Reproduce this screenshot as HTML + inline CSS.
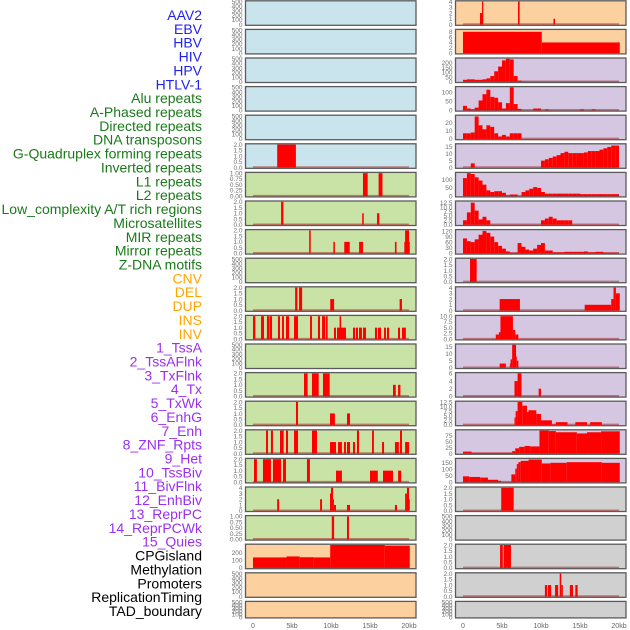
<!DOCTYPE html>
<html><head><meta charset="utf-8"><style>
html,body{margin:0;padding:0;background:#fff;}
svg{display:block;font-family:"Liberation Sans",sans-serif;}
</style></head><body>
<svg id="chart" width="630" height="630" viewBox="0 0 630 630" xmlns="http://www.w3.org/2000/svg"></svg>
<script>
const labels = ["AAV2","EBV","HBV","HIV","HPV","HTLV-1","Alu repeats","A-Phased repeats","Directed repeats","DNA transposons","G-Quadruplex forming repeats","Inverted repeats","L1 repeats","L2 repeats","Low_complexity A/T rich regions","Microsatellites","MIR repeats","Mirror repeats","Z-DNA motifs","CNV","DEL","DUP","INS","INV","1_TssA","2_TssAFlnk","3_TxFlnk","4_Tx","5_TxWk","6_EnhG","7_Enh","8_ZNF_Rpts","9_Het","10_TssBiv","11_BivFlnk","12_EnhBiv","13_ReprPC","14_ReprPCWk","15_Quies","CPGisland","Methylation","Promoters","ReplicationTiming","TAD_boundary"];
const labelColors = ["#2222ee","#1a7a1a","#ffa500","#9b30ee","#000000"];
const labelGroups = [0,0,0,0,0,0,1,1,1,1,1,1,1,1,1,1,1,1,1,2,2,2,2,2,3,3,3,3,3,3,3,3,3,3,3,3,3,3,3,4,4,4,4,4];
const panelColors = ["#c9e4ec","#c9e2a6","#fdd09f","#d5c7e2","#d0d0d0"];
const xTickLabels = ["0","5kb","10kb","15kb","20kb"];
const xTickValues = [0,5,10,15,20];

const ticks500 = ["0","100","200","300","400","500"];
const ticks2 = ["0.0","0.5","1.0","1.5","2.0"];
const ticks1 = ["0.00","0.25","0.50","0.75","1.00"];
const ticks4 = ["0","1","2","3","4"];

const htlv1Segs = [[3.1,5.5,2]];
const aluSegs = [[14.1,14.7,1],[16.1,16.6,1]];
const aPhasedSegs = [[3.6,3.9,2],[14.0,14.2,1],[15.9,16.2,1]];
const directedSegs = [[7.2,7.4,2],[10.3,10.5,1],[11.7,12.4,1],[13.6,14.1,1],[18.2,18.4,1],[19.4,20.1,1],[19.5,20.0,2]];
const gQuadSegs = [[5.4,5.7,2],[5.9,6.3,2],[9.9,10.4,1],[18.8,19.1,1]];
const invertedSegs = [[0,0.3,2],[1.03,1.41,2],[1.79,2.09,2],[2.14,2.44,2],[3.2,3.46,2],[3.72,3.97,2],[4.23,4.62,2],[5.26,5.77,2],[7.31,7.56,2],[8.33,8.59,2],[8.85,9.27,2],[9.36,9.57,2],[11.1,11.3,2],[10.38,10.64,1],[10.77,11.92,1],[12.82,13.08,1],[13.2,13.46,1],[13.59,13.97,1],[14.1,14.49,1],[15.64,15.9,1],[16.03,16.41,1],[16.8,17.05,1],[17.18,17.44,1],[18.59,18.85,1],[19.1,19.6,1]];
const l2Segs = [[6.54,7.0,2],[7.56,8.42,2],[8.97,9.83,2],[17.95,18.3,1],[18.6,18.9,1]];
const lowComplexSegs = [[5.51,5.77,2],[9.87,10.5,1],[12.05,12.44,1]];
const microSegs = [[1.67,1.92,2],[2.3,2.56,2],[3.46,3.93,2],[4.23,4.49,2],[5.26,5.77,2],[7.56,8.2,2],[13.33,13.59,2],[15.26,15.5,2],[18.85,19.1,2],[9.87,10.64,1],[10.9,11.4,1],[11.67,11.92,1],[12.05,12.44,1],[12.82,13.08,1],[16.54,16.8,1],[18.2,18.7,1],[19.5,20.0,1]];
const mirSegs = [[0.13,0.5,2],[1.28,2.3,2],[2.56,3.6,2],[3.85,4.23,2],[6.92,7.3,2],[10.64,11.4,1],[15.0,16.0,1],[16.67,17.95,1],[18.6,19.0,1]];
const mirrorSegs = [[3.1,3.35,2],[8.6,8.85,2],[9.87,10.0,3],[10.0,10.26,4],[10.26,10.38,2],[10.38,10.64,1],[12.05,12.44,1],[18.2,18.46,1],[19.5,19.74,3],[19.74,20.0,4],[20.0,20.1,2]];
const zdnaSegs = [[10.1,10.4,1],[12.05,12.3,1]];
const cnvSegs = [[0,4.3,137],[4.3,6.0,150],[6.0,7.8,140],[7.8,9.9,137],[9.9,16.9,300],[16.9,20.1,292]];
const insSegs = [[2.18,2.44,2],[2.44,2.6,4],[7.05,7.26,4],[11.6,11.8,1]];
const invSegs = [[0,10.1,8],[10.1,20.1,4]];
const tssABins = [20,25,25,20,20,25,35,60,110,160,225,242,235,60,12,3,2,2,2,2,2,2,2,2,2,2,2,2,2,2,2,2,2,2,2,2,2,2,2,2];
const tssAFlnkBins = [25,10,5,15,55,90,115,75,70,45,10,40,128,35,8,0,0,0,10,10,0,5,0,0,0,0,0,0,0,0,5,0,0,5,0,0,0,0,0,0];
const txFlnkBins = [7,7,8,28,17,12,17,15,7,3,5,3,7,7,7,0,0,0,0,0,0,0,0,0,0,0,0,0,0,0,0,0,0,0,0,0,0,0,0,0];
const txBins = [0,0,3,0,0,0,0,0,0,0,0,0,0,0,0,0,0,0,0,0,5,6,7,8,9,10.5,11.5,10.5,10.5,10.5,10.5,11,12,12,12,13,14,15,16,16];
const txWkBins = [110,140,135,115,95,70,35,25,30,30,20,5,10,10,0,25,35,45,55,50,25,15,15,15,15,15,15,15,15,15,12,12,12,12,12,12,12,12,12,12];
const enhGBins = [2.5,7,12.5,8,3,4.5,2.5,0,0,0,0,0,0,0,0,0,0,0,0,0,2.5,3.5,4.5,3.5,2.5,2.5,2.5,2.5,0,0,0,0,0,0,0,0,0,0,0,0];
const enhBins = [80,65,60,75,100,120,110,90,60,40,25,10,3,3,55,35,20,15,25,45,55,15,15,5,5,5,8,8,8,8,8,10,5,5,8,8,3,3,3,3];
const znfSegs = [[0.9,1.75,2]];
const hetSegs = [[4.7,7.3,2],[15.6,19.0,1],[19.0,19.3,2],[19.3,19.6,4],[19.6,20.1,3]];
const tssBivSegs = [[4.2,4.6,2],[4.6,4.8,3],[4.8,6.4,10],[6.4,6.7,4],[6.7,7.1,2]];
const bivFlnkSegs = [[4.7,5.5,3],[6.0,6.1,3],[6.1,6.3,6],[6.3,6.8,16.5],[6.8,6.9,8],[6.9,7.1,5]];
const enhBivSegs = [[6.6,7.0,4],[7.0,7.5,6],[9.7,10.0,2]];
const reprPCSegs = [[6.6,6.75,4],[6.75,7.0,7.5],[7.0,7.6,12.5],[7.6,8.2,10.5],[8.2,8.4,7],[8.4,9.4,8],[9.4,10.0,6],[10.0,11.4,2.5],[11.4,11.9,0.3],[11.9,13.4,1.5],[14.4,15.9,1.5],[16.3,17.8,1.5]];
const reprPCWkSegs = [[0,1.1,8],[1.1,6.3,3],[6.3,6.7,10],[6.7,7.2,22],[7.2,7.9,28],[7.9,8.6,32],[8.6,9.8,30],[9.8,11.0,97],[11.0,11.9,95],[11.9,14.6,90],[14.6,15.9,85],[15.9,17.7,90],[17.7,20.1,94]];
const quiesSegs = [[0,0.8,45],[0.8,2.2,40],[2.2,3.2,35],[3.2,4.5,18],[4.5,4.9,10],[4.9,6.2,2],[6.2,6.7,60],[6.7,6.9,105],[6.9,7.1,140],[7.1,7.4,155],[7.4,8.4,165],[8.4,10.1,175],[10.1,11.2,145],[11.2,13.3,150],[13.3,17.8,155],[17.8,20.1,150]];
const cpgSegs = [[4.9,6.5,2]];
const promoterSegs = [[4.75,5.1,2],[5.2,6.15,2]];
const replSegs = [[10.5,10.8,1],[10.9,11.3,1],[11.8,12.2,1],[12.4,12.6,2],[12.6,12.8,1],[13.7,14.1,1],[14.4,14.7,1]];

function binsToSegs(b){ return b.map((v,i)=>[i*0.5,i*0.5+0.5,v]); }

const tracks = [
 [[],500,ticks500,[0,100,200,300,400,500]],
 [[],500,ticks500,[0,100,200,300,400,500]],
 [[],500,ticks500,[0,100,200,300,400,500]],
 [[],500,ticks500,[0,100,200,300,400,500]],
 [[],500,ticks500,[0,100,200,300,400,500]],
 [htlv1Segs,2,ticks2,[0,0.5,1,1.5,2]],
 [aluSegs,1,ticks1,[0,0.25,0.5,0.75,1]],
 [aPhasedSegs,2,ticks2,[0,0.5,1,1.5,2]],
 [directedSegs,2,ticks2,[0,0.5,1,1.5,2]],
 [[],500,ticks500,[0,100,200,300,400,500]],
 [gQuadSegs,2,ticks2,[0,0.5,1,1.5,2]],
 [invertedSegs,2,ticks2,[0,0.5,1,1.5,2]],
 [[],500,ticks500,[0,100,200,300,400,500]],
 [l2Segs,2,ticks2,[0,0.5,1,1.5,2]],
 [lowComplexSegs,2,ticks2,[0,0.5,1,1.5,2]],
 [microSegs,2,ticks2,[0,0.5,1,1.5,2]],
 [mirSegs,2,ticks2,[0,0.5,1,1.5,2]],
 [mirrorSegs,4,ticks4,[0,1,2,3,4]],
 [zdnaSegs,1,ticks1,[0,0.25,0.5,0.75,1]],
 [cnvSegs,300,["0","100","200"],[0,100,200]],
 [[],500,ticks500,[0,100,200,300,400,500]],
 [[],500,ticks500,[0,100,200,300,400,500]],
 [insSegs,4,ticks4,[0,1,2,3,4]],
 [invSegs,8.6,["0","2","4","6","8"],[0,2,4,6,8]],
 [binsToSegs(tssABins),242,["0","50","100","150","200"],[0,50,100,150,200]],
 [binsToSegs(tssAFlnkBins),128,["0","50","100"],[0,50,100]],
 [binsToSegs(txFlnkBins),28.6,["0","10","20"],[0,10,20]],
 [binsToSegs(txBins),16.7,["0","5","10","15"],[0,5,10,15]],
 [binsToSegs(txWkBins),140,["0","50","100"],[0,50,100]],
 [binsToSegs(enhGBins),13,["0.0","2.5","5.0","7.5","10.0","12.5"],[0,2.5,5,7.5,10,12.5]],
 [binsToSegs(enhBins),123,["0","30","60","90","120"],[0,30,60,90,120]],
 [znfSegs,2,ticks2,[0,0.5,1,1.5,2]],
 [hetSegs,4,ticks4,[0,1,2,3,4]],
 [tssBivSegs,10,["0.0","2.5","5.0","7.5","10.0"],[0,2.5,5,7.5,10]],
 [bivFlnkSegs,16.5,["0","5","10","15"],[0,5,10,15]],
 [enhBivSegs,6,["0","2","4","6"],[0,2,4,6]],
 [reprPCSegs,12.5,["0.0","2.5","5.0","7.5","10.0","12.5"],[0,2.5,5,7.5,10,12.5]],
 [reprPCWkSegs,97,["0","25","50","75"],[0,25,50,75]],
 [quiesSegs,178,["0","50","100","150"],[0,50,100,150]],
 [cpgSegs,2,ticks2,[0,0.5,1,1.5,2]],
 [[],500,ticks500,[0,100,200,300,400,500]],
 [promoterSegs,2,ticks2,[0,0.5,1,1.5,2]],
 [replSegs,2,ticks2,[0,0.5,1,1.5,2]],
 [[],500,ticks500,[0,100,200,300,400,500]]
];
const colorGroupOfTrack = [0,0,0,0,0,0,1,1,1,1,1,1,1,1,1,1,1,1,1,2,2,2,2,2,3,3,3,3,3,3,3,3,3,3,3,3,3,3,3,4,4,4,4,4];

const NS = "http://www.w3.org/2000/svg";
const svg = document.getElementById('chart');
function mk(tag, attrs, parent){
  const e = document.createElementNS(NS, tag);
  for (const k in attrs) e.setAttribute(k, attrs[k]);
  (parent||svg).appendChild(e);
  return e;
}
labels.forEach((t,i)=>{
  const e = mk('text',{x:202,y:20+13.86*i,'text-anchor':'end','font-size':14,fill:labelColors[labelGroups[i]]});
  e.textContent = t;
  
  
});
const colX = [245.5, 455.5], colW = 170.5, kbPx = 7.8;
function xScale(col, kb){ return colX[col] + 7.5 + kb*kbPx; }
tracks.forEach((tr,i)=>{
  const col = i < 22 ? 0 : 1, row = i % 22;
  const top = 0.8 + row*28.6, h = row===21 ? 16.5 : 24.5;
  const g = mk('g',{});
  
  
  const bg = mk('rect',{x:colX[col],y:top,width:colW,height:h,fill:panelColors[colorGroupOfTrack[i]],stroke:'#5a5a5a','stroke-width':1.3},g);
  
  
  const [segs,ymax,tl,tv] = tr;
  const bottom = top + h - 0.8, span = h - 1.6;
  const yS = v => bottom - (v/ymax)*span;
  if (segs.length) {
    const bl = mk('line',{x1:xScale(col,0),x2:xScale(col,20),y1:bottom-0.5,y2:bottom-0.5,stroke:'rgba(170,40,40,0.55)','stroke-width':1.5},g);
    
    
  }
  segs.forEach(s=>{
    if (s[2] <= 0) return;
    const r = mk('rect',{x:xScale(col,s[0]),y:yS(s[2]),width:Math.max(0.8,(s[1]-s[0])*kbPx),height:bottom-yS(s[2]),fill:'#ff0000'},g);
    
    
  });
  tv.forEach((v,k)=>{
    const t = mk('text',{x:colX[col]-3,y:yS(v)+2.3,'text-anchor':'end','font-size':6.5,fill:'#707070'},g);
    t.textContent = tl[k];
    
    
  });
});
[0,1].forEach(col=>{
  xTickValues.forEach((v,k)=>{
    const t = mk('text',{x:xScale(col,v),y:628,'text-anchor':'middle','font-size':7,fill:'#666'});
    t.textContent = xTickLabels[k];
    
    
  });
});
</script>
</body></html>
